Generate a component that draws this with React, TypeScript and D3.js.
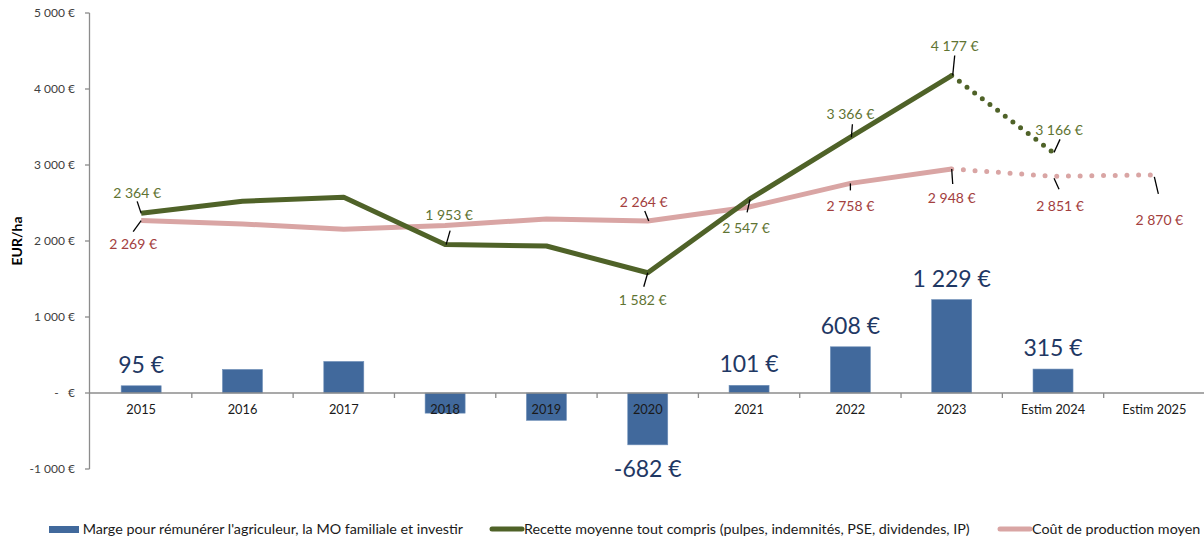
import React from 'react';
import * as d3 from 'd3';

const categories = ['2015', '2016', '2017', '2018', '2019', '2020', '2021', '2022', '2023', 'Estim 2024', 'Estim 2025'];
const marge: (number | null)[] = [95, 310, 415, -265, -360, -682, 101, 608, 1229, 315, null];
const recette: (number | null)[] = [2364, 2524, 2576, 1953, 1934, 1582, 2547, 3366, 4177, 3166, null];
const cout: (number | null)[] = [2269, 2224, 2156, 2205, 2290, 2264, 2447, 2758, 2948, 2851, 2870];
const yTicks = [-1000, 0, 1000, 2000, 3000, 4000, 5000];
const solidEnd = 8; // index of 2023, last solid point
const barLabelIdx = [0, 5, 6, 7, 8, 9];
const legendItems = [
  'Marge pour rémunérer l\'agriculeur, la MO familiale et investir',
  'Recette moyenne tout compris (pulpes, indemnités, PSE, dividendes, IP)',
  'Coût de production moyen',
];

const W = 1204, H = 540;

function fmt(v: number) {
  const s = d3.format(',')(Math.abs(v)).replace(/,/g, '\u00a0');
  return (v < 0 ? '-' : '') + s + ' €';
}

export default function App() {
  const x = d3.scaleBand<string>().domain(categories).range([90.5, 1205]).paddingInner(0).paddingOuter(0);
  const y = d3.scaleLinear().domain([-1000, 5000]).range([469, 13]);
  const bw = x.bandwidth();
  const cx = (i: number) => (x(categories[i]) as number) + bw / 2;
  const font = 'Lato, "Open Sans", sans-serif';

  const line = d3.line<[number, number]>().x(d => d[0]).y(d => d[1]);
  const pts = (arr: (number | null)[], from: number, to: number) => {
    const out: [number, number][] = [];
    for (let i = from; i <= to; i++) { const v = arr[i]; if (v != null) out.push([cx(i), y(v)]); }
    return out;
  };

  const green = '#4f6228';
  const pink = '#d9a5a4';
  const blue = '#41699c';
  const greenTxt = '#5f7433';
  const redTxt = '#a3403e';

  type L = { i: number; s: 'r' | 'c'; lx: number; ly: number; a: [number, number]; b: [number, number] };
  const labels: L[] = [
    { i: 0, s: 'r', lx: -4, ly: -20, a: [-4, -12], b: [0, 0] },
    { i: 0, s: 'c', lx: -8, ly: 24, a: [-8, 11], b: [0, 0] },
    { i: 3, s: 'r', lx: 4, ly: -29, a: [5, -14], b: [1, 0] },
    { i: 5, s: 'c', lx: -4, ly: -19, a: [-3, -10], b: [1, 0] },
    { i: 5, s: 'r', lx: -5, ly: 27, a: [0, 0], b: [-4, 14] },
    { i: 6, s: 'r', lx: -3, ly: 29, a: [1, 0], b: [-2, 13] },
    { i: 7, s: 'r', lx: 0, ly: -23, a: [2, -13], b: [1, 0] },
    { i: 8, s: 'r', lx: 3, ly: -29, a: [3, -20], b: [1, 0] },
    { i: 9, s: 'r', lx: 6, ly: -22, a: [7, -13], b: [1, 0] },
    { i: 7, s: 'c', lx: 0, ly: 23, a: [0, 7], b: [0, 0] },
    { i: 8, s: 'c', lx: 0, ly: 29, a: [1, 15], b: [0, 0] },
    { i: 9, s: 'c', lx: 7, ly: 30, a: [1, 2], b: [6, 13] },
    { i: 10, s: 'c', lx: 5, ly: 45, a: [0, 2], b: [4, 19] },
  ];

  const legY = 529;

  return (
    <svg width={W} height={H} style={{ position: 'absolute', left: 0, top: 0, background: '#fff' }} fontFamily={font}>
      {/* y axis */}
      <line x1={89.5} x2={89.5} y1={y(5000)} y2={y(-1000)} stroke="#8c8c8c" strokeWidth={1.3} />
      {yTicks.map(t => (
        <g key={t}>
          <line x1={85} x2={89.5} y1={y(t)} y2={y(t)} stroke="#8c8c8c" strokeWidth={1.3} />
          <text x={75} y={y(t)} dy="0.35em" textAnchor="end" fontSize={12} fill="#404040">
            {t === 0 ? '-\u00a0\u00a0\u00a0€' : fmt(t)}
          </text>
        </g>
      ))}
      <text transform={`translate(17,${y(2000)}) rotate(-90)`} dy="0.35em" textAnchor="middle" fontSize={14} fontWeight="bold" fill="#000">EUR/ha</text>

      {/* bars */}
      {marge.map((v, i) => v == null ? null : (
        <rect key={i} x={cx(i) - 20} width={40} y={Math.min(y(v), y(0))} height={Math.abs(y(v) - y(0))} fill={blue} stroke="#6f8fb8" strokeWidth={0.6} />
      ))}

      {/* x axis */}
      <line x1={89.5} x2={W} y1={y(0)} y2={y(0)} stroke="#8c8c8c" strokeWidth={1.3} />
      {categories.map(c => (
        <line key={c} x1={(x(c) as number) + bw} x2={(x(c) as number) + bw} y1={y(0)} y2={y(0) + 5} stroke="#8c8c8c" strokeWidth={1.3} />
      ))}
      {categories.map((c, i) => (
        <text key={c} x={cx(i)} y={y(0) + 17} dy="0.35em" textAnchor="middle" fontSize={12.8} fill="#1a1a1a">{c}</text>
      ))}

      {/* lines */}
      <path d={line(pts(cout, 0, solidEnd)) || ''} fill="none" stroke={pink} strokeWidth={5} strokeLinejoin="round" />
      <path d={line(pts(cout, solidEnd, 10)) || ''} fill="none" stroke={pink} strokeWidth={5} strokeLinecap="round" strokeDasharray="0 11.7" />
      <path d={line(pts(recette, 0, solidEnd)) || ''} fill="none" stroke={green} strokeWidth={5} strokeLinejoin="round" />
      <path d={line(pts(recette, solidEnd, 9)) || ''} fill="none" stroke={green} strokeWidth={5} strokeLinecap="round" strokeDasharray="0 9.6" />

      {/* data labels for lines */}
      {labels.map((l, k) => {
        const v = (l.s === 'r' ? recette : cout)[l.i] as number;
        const px = cx(l.i), py = y(v);
        return (
          <g key={k}>
            <line x1={px + l.a[0]} y1={py + l.a[1]} x2={px + l.b[0]} y2={py + l.b[1]} stroke="#000" strokeWidth={1.3} />
            <text x={px + l.lx} y={py + l.ly} dy="0.35em" textAnchor="middle" fontSize={14} fill={l.s === 'r' ? greenTxt : redTxt}>{fmt(v)}</text>
          </g>
        );
      })}

      {/* bar labels */}
      {barLabelIdx.map(i => {
        const v = marge[i] as number;
        const ly = v >= 0 ? y(v) - 21 : y(v) + 24;
        return (
          <text key={i} x={cx(i)} y={ly} dy="0.35em" textAnchor="middle" fontSize={23} fill="#1f3864">{fmt(v)}</text>
        );
      })}

      {/* legend */}
      <rect x={49} y={legY - 3} width={30} height={7} fill={blue} />
      <text x={463} y={legY} dy="0.35em" textAnchor="end" fontSize={14.3} fill="#1a1a1a">{legendItems[0]}</text>
      <line x1={492} x2={522} y1={legY} y2={legY} stroke={green} strokeWidth={5} strokeLinecap="round" />
      <text x={524} y={legY} dy="0.35em" fontSize={14.3} fill="#1a1a1a">{legendItems[1]}</text>
      <line x1={1000} x2={1030} y1={legY} y2={legY} stroke={pink} strokeWidth={5} strokeLinecap="round" />
      <text x={1032} y={legY} dy="0.35em" fontSize={14.3} fill="#1a1a1a">{legendItems[2]}</text>
    </svg>
  );
}
